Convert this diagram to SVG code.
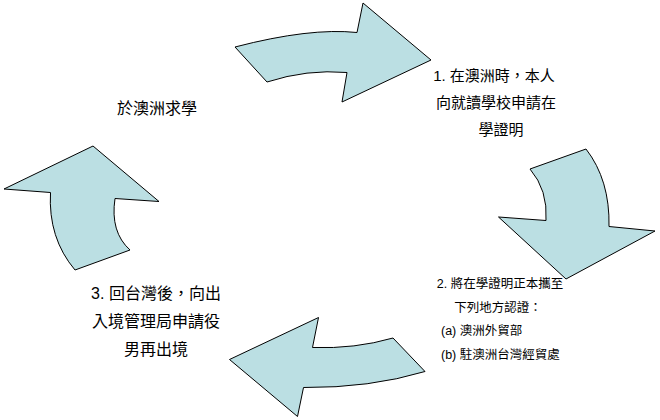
<svg xmlns="http://www.w3.org/2000/svg" width="660" height="420" viewBox="0 0 660 420">
<style>
.arrow{fill:#BBDFE3;stroke:#000;stroke-width:1;stroke-linejoin:miter}
.t{font-family:"Liberation Sans","Noto Sans CJK TC",sans-serif;fill:#000;text-anchor:middle}
.st{text-anchor:start}
.m{font-size:16px}
.r{font-size:15px}
.s{font-size:12.5px}
</style>
<rect width="660" height="420" fill="#fff"/>
<g id="connectors">
<path id="arrow-top" class="arrow" d="M235,47 Q310,27.5 357,32.5 L363,3 L431,60 L342,102 L347,72.5 Q307,69 267,82 Z"/>
<path id="arrow-right" class="arrow" d="M530,169 L586,149 Q610,180 609,226.5 L655,231 L566,279 L498.5,217 L546,220.5 Q548,190 530,169 Z"/>
<path id="arrow-bottom" class="arrow" d="M393,338 L425,371.5 Q370,388 303.5,387.5 L297.5,416.5 L229.5,359.5 L318.5,317.5 L312.5,347.5 Q355,349 393,338 Z"/>
<path id="arrow-left" class="arrow" d="M130,250 L75,270 Q48,238 50.5,192.5 L4,189 L93,146 L159,201.5 L115,198.5 Q110,232 130,250 Z"/>
</g>
<g id="node-start">
<text class="t m" x="157" y="114">於澳洲求學</text>
</g>
<g id="node-1">
<text class="t r" x="494" y="81">1. 在澳洲時，本人</text>
<text class="t r" x="496" y="108">向就讀學校申請在</text>
<text class="t r" x="501" y="135">學證明</text>
</g>
<g id="node-2">
<text class="t s" x="500" y="288">2. 將在學證明正本攜至</text>
<text class="t s" x="498" y="312">下列地方認證：</text>
<text class="t s st" x="441" y="335">(a) 澳洲外貿部</text>
<text class="t s st" x="441" y="359">(b) 駐澳洲台灣經貿處</text>
</g>
<g id="node-3">
<text class="t m" x="156" y="299">3. 回台灣後，向出</text>
<text class="t m" x="156" y="327">入境管理局申請役</text>
<text class="t m" x="156" y="355">男再出境</text>
</g>
</svg>
